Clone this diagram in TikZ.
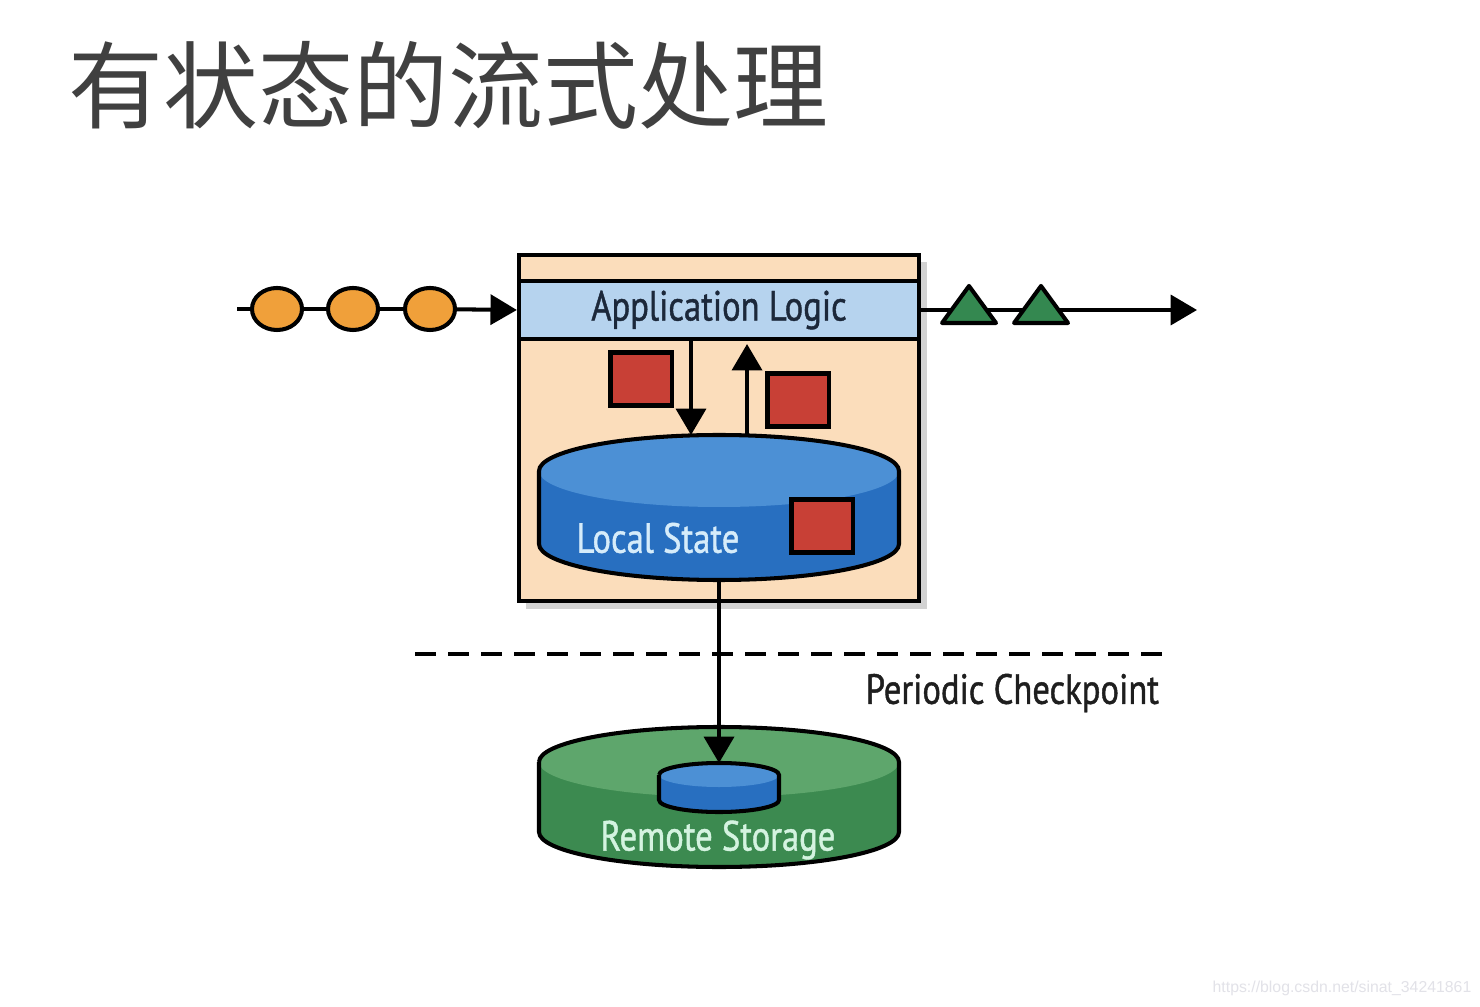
\documentclass[tikz,border=0pt]{standalone}
\usepackage{fontspec}
\usetikzlibrary{arrows.meta,positioning,shapes.geometric,shadows}
\newfontfamily\cjkfont{Noto Sans CJK SC}
\newfontfamily\labelfont[FakeStretch=0.82,FakeBold=1]{PT Sans}
\newfontfamily\creditfont{Liberation Sans}

\definecolor{titlegray}{RGB}{64,64,64}
\definecolor{taskpeach}{RGB}{251,221,187}
\definecolor{logicblue}{RGB}{182,211,238}
\definecolor{logictext}{RGB}{28,40,58}
\definecolor{statebody}{RGB}{40,111,192}
\definecolor{statetop}{RGB}{76,144,213}
\definecolor{statetext}{RGB}{214,236,250}
\definecolor{tokenred}{RGB}{200,64,54}
\definecolor{eventorange}{RGB}{240,160,58}
\definecolor{resultgreen}{RGB}{52,136,80}
\definecolor{remotebody}{RGB}{60,138,80}
\definecolor{remotetop}{RGB}{94,166,108}
\definecolor{remotetext}{RGB}{212,243,224}
\definecolor{ckpttext}{RGB}{30,30,30}
\definecolor{creditgray}{RGB}{226,226,232}

% cylinder: cx, top y, x radius, y radius, depth, body colour, top colour
\newcommand{\drum}[7]{%
  \fill[#6] (#1-#3,#2) -- (#1-#3,#2-#5) arc (180:360:#3 and #4) -- (#1+#3,#2) -- cycle;
  \fill[#7] (#1,#2) ellipse (#3 and #4);
  \draw[outline] (#1-#3,#2) -- (#1-#3,#2-#5) arc (180:360:#3 and #4) -- (#1+#3,#2) arc (0:180:#3 and #4);
}

\begin{document}
\begin{tikzpicture}[x=0.01cm, y=0.01cm,
    outline/.style={line width=1.15pt},
    flow/.style={line width=1.15pt, -{Triangle[length=7.5pt, width=8.5pt]}},
    token/.style={draw, line width=1.15pt, fill=tokenred, minimum width=0.61cm, minimum height=0.53cm, inner sep=0pt},
    event/.style={ellipse, draw, line width=1.15pt, fill=eventorange, minimum width=0.5cm, minimum height=0.42cm, inner sep=0pt},
    caption/.style={font=\labelfont\fontsize{12}{14}\selectfont, inner sep=0pt}]
  \fill[white] (0,0) rectangle (1480,-1007);
  \useasboundingbox (0,0) rectangle (1480,-1007);

  % title
  \node[anchor=west, inner sep=0pt, text=titlegray, font=\cjkfont\fontsize{27}{32}\selectfont] (title) at (68,-85) {有状态的流式处理};

  % operator
  \node[draw, outline, fill=taskpeach, minimum width=4cm, minimum height=3.46cm,
        drop shadow={opacity=0.35}] (task) at (719,-428) {};
  \node[draw, outline, fill=logicblue, minimum width=4cm, minimum height=0.58cm,
        caption, text=logictext] (logic) at (719,-310) {Application Logic};

  % local state
  \drum{719}{-471}{180}{36}{73}{statebody}{statetop}
  \coordinate (stateTop) at (719,-435);
  \coordinate (stateBottom) at (719,-580);
  \node[caption, text=statetext] (stateLabel) at (658,-538) {Local State};
  \node[token] (sq1) at (641,-379) {};
  \node[token] (sq2) at (798,-400) {};
  \node[token] (sq3) at (822,-526) {};
  \draw[flow] ([xshift=-0.28cm]logic.south) -- ([xshift=-0.28cm]stateTop);
  \draw[flow] ([xshift=0.28cm]stateTop) -- ([xshift=0.28cm,yshift=-0.03cm]logic.south);

  % input events
  \coordinate (src) at (237,-309);
  \node[event] (e1) at (277,-309) {};
  \node[event] (e2) at (353,-309) {};
  \node[event] (e3) at (430,-309) {};
  \draw[outline] (src) -- (e1) (e1) -- (e2) (e2) -- (e3);
  \draw[flow] (e3) -- (logic.west);

  % output results
  \coordinate (sink) at (1197,-310);
  \draw[flow] (logic.east) -- (sink);
  \foreach \x in {969,1041}
    \filldraw[outline, line join=round, fill=resultgreen] (\x-27,-323) -- (\x,-286) -- (\x+27,-323) -- cycle;

  % checkpoint
  \coordinate (cutL) at (415,-654);
  \coordinate (cutR) at (1167,-654);
  \draw[line width=1.15pt, dash pattern=on 0.21cm off 0.12cm] (cutL) -- (cutR);
  \node[caption, anchor=west, text=ckpttext] (ckptLabel) at (865,-693) {Periodic Checkpoint};

  % remote storage
  \drum{719}{-762}{180}{35}{70}{remotebody}{remotetop}
  \drum{719}{-775}{60}{12}{25}{statebody}{statetop}
  \coordinate (vaultTop) at (719,-763);
  \node[caption, text=remotetext] (remoteLabel) at (718,-840) {Remote Storage};
  \draw[flow] (stateBottom) -- (vaultTop);

  \node[anchor=east, inner sep=0pt, text=creditgray, font=\creditfont\fontsize{4.5}{5}\selectfont] (credit) at (1472,-988) {https://blog.csdn.net/sinat\_34241861};
\end{tikzpicture}
\end{document}
